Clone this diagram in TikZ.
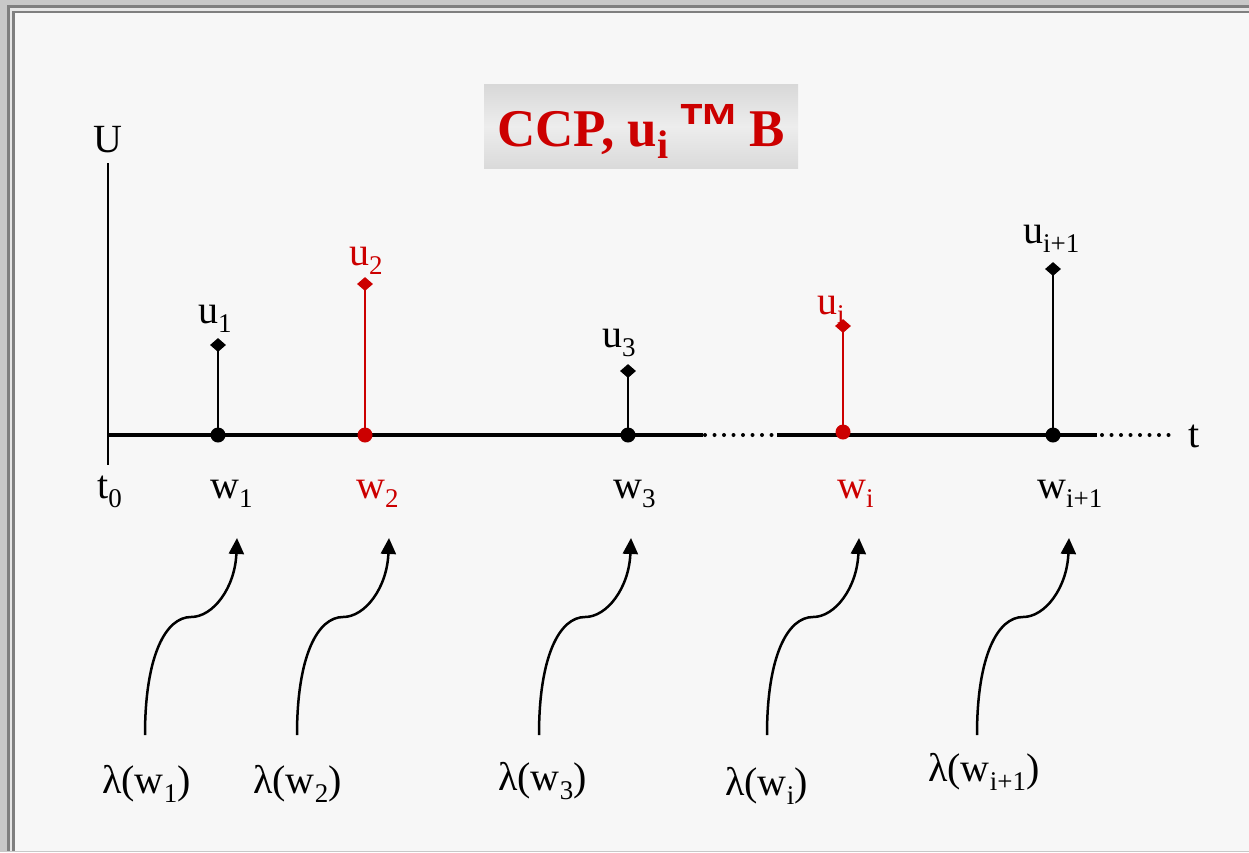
\documentclass[tikz,border=0pt]{standalone}
\usepackage{fontspec}
\setmainfont{Liberation Serif}
\newfontfamily\sansbf{Liberation Sans}
\usetikzlibrary{shapes.geometric,arrows.meta}
\definecolor{ccpred}{HTML}{CC0000}
\definecolor{outerg}{HTML}{C8C8C8}
\definecolor{frameg}{HTML}{7F7F7F}
\definecolor{framew}{HTML}{E6E6E6}
\definecolor{innerg}{HTML}{F7F7F7}
\definecolor{tbtop}{HTML}{D8D8D8}
\definecolor{tbmid}{HTML}{EDEDED}
\definecolor{tbbot}{HTML}{DADADA}
\newcommand\lsub[1]{\raisebox{-9pt}{\fontsize{27}{27}\selectfont #1}}
\begin{document}
\begin{tikzpicture}[x=1pt,y=-1pt,
  lbl/.style={anchor=base west, inner sep=0pt, font=\fontsize{40}{40}\selectfont},
  redlbl/.style={lbl, text=ccpred},
  dotb/.style={circle, fill, inner sep=0pt, minimum size=15pt},
  diam/.style={diamond, fill, inner sep=0pt, minimum width=16pt, minimum height=14pt},
  stem/.style={line width=2.2pt},
  axisline/.style={line width=3.4pt},
  dotline/.style={line width=4pt, dash pattern=on 0pt off 9.5pt, line cap=round},
  squig/.style={line width=2.5pt, -{Triangle[width=15pt,length=16pt]}},
  titlebg/.style={rectangle, inner sep=0pt, minimum width=314pt, minimum height=84pt,
    top color=tbtop, bottom color=tbbot, middle color=tbmid}
]
\useasboundingbox (0,0) rectangle (1249,852);
% frame
\fill[outerg] (0,0) rectangle (1249,852);
\fill[frameg] (7,5) rectangle (1249,851);
\fill[framew] (10,8.3) rectangle (1249,851);
\fill[frameg] (12.3,10.7) rectangle (1249,851);
\fill[innerg] (15,13.3) rectangle (1249,851);

% title
\node[titlebg] (tbox) at (641,126) {};
\node[anchor=base, inner sep=0pt, text=ccpred, font=\fontsize{53}{53}\selectfont\bfseries] (title) at (641,146)
  {CCP, u\raisebox{-12pt}{\fontsize{40}{40}\selectfont i}\hspace{0.18em}\raisebox{-2pt}{\scalebox{1.6}{\sansbf\fontsize{40}{40}\selectfont\bfseries ™}}\hspace{0.15em}B};

% axes
\coordinate (ytop) at (108,163);
\coordinate (ybot) at (108,465);
\coordinate (o) at (108,435);
\coordinate (d1) at (703,435);
\coordinate (d2) at (777,435);
\coordinate (d3) at (1097,435);
\coordinate (d4) at (1172,435);
\draw[stem] (ytop) -- (ybot);
\draw[axisline] (o) -- (d1);
\draw[dotline] ([xshift=2pt]d1) -- (d2);
\draw[axisline] (d2) -- (d3);
\draw[dotline] ([xshift=5pt]d3) -- (d4);

% points and stems
\node[dotb] (p1) at (218,435) {};
\node[dotb, ccpred] (p2) at (365,435) {};
\node[dotb] (p3) at (628,435) {};
\node[dotb, ccpred] (p4) at (843,432) {};
\node[dotb] (p5) at (1053,435) {};
\node[diam] (q1) at (218,345) {};
\node[diam, ccpred] (q2) at (365,284) {};
\node[diam] (q3) at (628,371) {};
\node[diam, ccpred] (q4) at (843,326) {};
\node[diam] (q5) at (1053,269) {};
\draw[stem] (p1.center) -- (q1.center);
\draw[stem, ccpred] (p2.center) -- (q2.center);
\draw[stem] (p3.center) -- (q3.center);
\draw[stem, ccpred] (p4.center) -- (q4.center);
\draw[stem] (p5.center) -- (q5.center);

% labels
\node[lbl] (U) at (93,152) {U};
\node[lbl] (t) at (1188,447) {t};
\node[lbl] (u1) at (198,323) {u\lsub{1}};
\node[redlbl] (u2) at (349,265) {u\lsub{2}};
\node[lbl] (u3) at (602,347) {u\lsub{3}};
\node[redlbl] (ui) at (817,314) {u\lsub{i}};
\node[lbl] (ui1) at (1023,243) {u\lsub{i+1}};
\node[lbl] (t0) at (97,498) {t\lsub{0}};
\node[lbl] (w1) at (210,498) {w\lsub{1}};
\node[redlbl] (w2) at (356,498) {w\lsub{2}};
\node[lbl] (w3) at (613,498) {w\lsub{3}};
\node[redlbl] (wi) at (837,498) {w\lsub{i}};
\node[lbl] (wi1) at (1037,498) {w\lsub{i+1}};
\node[lbl] (l1) at (102,793) {λ(w\lsub{1})};
\node[lbl] (l2) at (253,793) {λ(w\lsub{2})};
\node[lbl] (l3) at (498,790) {λ(w\lsub{3})};
\node[lbl] (l4) at (725,795) {λ(w\lsub{i})};
\node[lbl] (l5) at (928,781) {λ(w\lsub{i+1})};

% squiggly arrows
\foreach \n/\x in {1/145,2/297,3/539,4/767,5/977}{
  \coordinate (s\n) at (\x,735);
  \coordinate (m\n) at (\x+46,617);
  \coordinate (e\n) at (\x+92,538);
  \draw[squig] (s\n) .. controls +(0,-80) and +(-25,0) .. (m\n)
     .. controls +(22,0) and +(-2,50) .. (e\n);
}
\end{tikzpicture}
\end{document}
